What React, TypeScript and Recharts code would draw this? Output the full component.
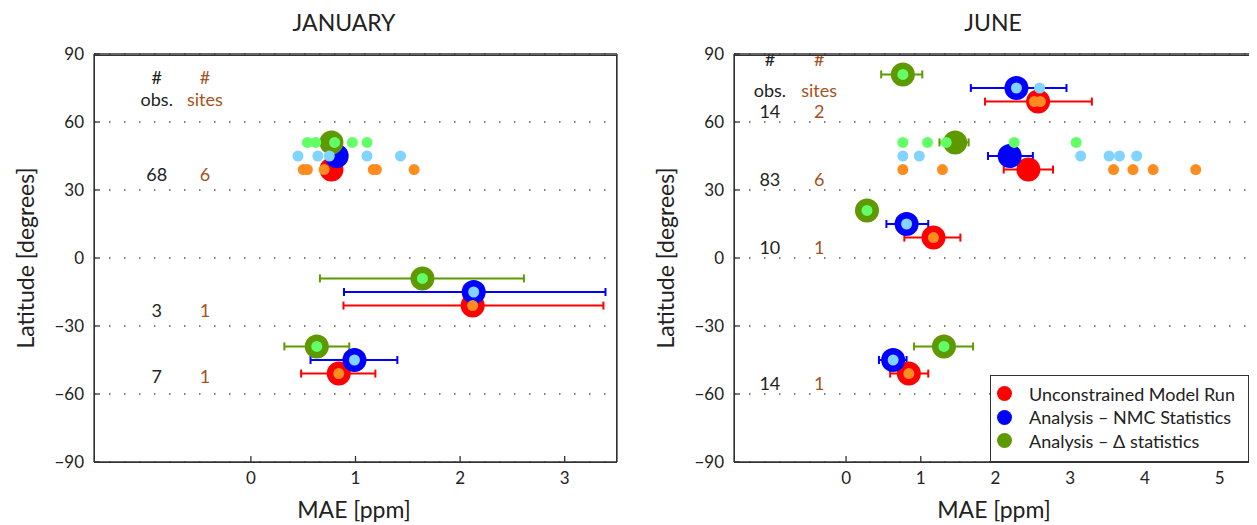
import React from "react";
import { ScatterChart, Scatter, XAxis, YAxis, CartesianGrid, ErrorBar } from "recharts";

const latTicks = [-90, -60, -30, 0, 30, 60, 90];
const janMaeTicks = [0, 1, 2, 3];
const junMaeTicks = [0, 1, 2, 3, 4, 5];

// regional means: mae, latitude, error bar ends (lo/hi)
const janModel = [
  { mae: 0.77, lat: 39, lo: 0.77, hi: 0.77 },
  { mae: 2.12, lat: -21, lo: 0.885, hi: 3.37 },
  { mae: 0.84, lat: -51, lo: 0.48, hi: 1.19 },
];
const janNmc = [
  { mae: 0.82, lat: 45, lo: 0.82, hi: 0.82 },
  { mae: 2.13, lat: -15, lo: 0.89, hi: 3.39 },
  { mae: 0.99, lat: -45, lo: 0.57, hi: 1.4 },
];
const janDelta = [
  { mae: 0.77, lat: 51, lo: 0.77, hi: 0.77 },
  { mae: 1.64, lat: -9, lo: 0.66, hi: 2.61 },
  { mae: 0.63, lat: -39, lo: 0.32, hi: 0.94 },
];

// individual sites
const janModelSites = [
  { mae: 0.5, lat: 39 }, { mae: 0.54, lat: 39 }, { mae: 0.7, lat: 39 },
  { mae: 1.17, lat: 39 }, { mae: 1.2, lat: 39 }, { mae: 1.56, lat: 39 },
  { mae: 2.12, lat: -21 }, { mae: 0.84, lat: -51 },
];
const janNmcSites = [
  { mae: 0.45, lat: 45 }, { mae: 0.64, lat: 45 }, { mae: 0.75, lat: 45 },
  { mae: 1.11, lat: 45 }, { mae: 1.43, lat: 45 },
  { mae: 2.13, lat: -15 }, { mae: 0.99, lat: -45 },
];
const janDeltaSites = [
  { mae: 0.54, lat: 51 }, { mae: 0.62, lat: 51 }, { mae: 0.8, lat: 51 },
  { mae: 0.97, lat: 51 }, { mae: 1.11, lat: 51 },
  { mae: 1.64, lat: -9 }, { mae: 0.63, lat: -39 },
];

const janObsNotes = [
  { mae: -0.9, lat: 80, text: "#" },
  { mae: -0.9, lat: 70, text: "obs." },
  { mae: -0.9, lat: 37, text: "68" },
  { mae: -0.9, lat: -23, text: "3" },
  { mae: -0.9, lat: -52, text: "7" },
];
const janSiteNotes = [
  { mae: -0.44, lat: 80, text: "#" },
  { mae: -0.44, lat: 70, text: "sites" },
  { mae: -0.44, lat: 37, text: "6" },
  { mae: -0.44, lat: -23, text: "1" },
  { mae: -0.44, lat: -52, text: "1" },
];

const junModel = [
  { mae: 2.57, lat: 69, lo: 1.86, hi: 3.29 },
  { mae: 2.44, lat: 39, lo: 2.11, hi: 2.77 },
  { mae: 1.17, lat: 9, lo: 0.78, hi: 1.53 },
  { mae: 0.84, lat: -51, lo: 0.59, hi: 1.1 },
];
const junNmc = [
  { mae: 2.28, lat: 75, lo: 1.67, hi: 2.95 },
  { mae: 2.19, lat: 45, lo: 1.9, hi: 2.5 },
  { mae: 0.81, lat: 15, lo: 0.54, hi: 1.1 },
  { mae: 0.63, lat: -45, lo: 0.44, hi: 0.81 },
];
const junDelta = [
  { mae: 0.76, lat: 81, lo: 0.47, hi: 1.02 },
  { mae: 1.46, lat: 51, lo: 1.25, hi: 1.64 },
  { mae: 0.28, lat: 21, lo: 0.28, hi: 0.28 },
  { mae: 1.31, lat: -39, lo: 0.91, hi: 1.7 },
];

const junModelSites = [
  { mae: 2.52, lat: 69 }, { mae: 2.6, lat: 69 },
  { mae: 0.76, lat: 39 }, { mae: 1.29, lat: 39 }, { mae: 3.58, lat: 39 },
  { mae: 3.84, lat: 39 }, { mae: 4.11, lat: 39 }, { mae: 4.68, lat: 39 },
  { mae: 1.17, lat: 9 }, { mae: 0.84, lat: -51 },
];
const junNmcSites = [
  { mae: 2.28, lat: 75 }, { mae: 2.59, lat: 75 },
  { mae: 0.76, lat: 45 }, { mae: 0.98, lat: 45 }, { mae: 3.14, lat: 45 },
  { mae: 3.52, lat: 45 }, { mae: 3.66, lat: 45 }, { mae: 3.89, lat: 45 },
  { mae: 0.81, lat: 15 }, { mae: 0.63, lat: -45 },
];
const junDeltaSites = [
  { mae: 0.76, lat: 81 },
  { mae: 0.76, lat: 51 }, { mae: 1.09, lat: 51 }, { mae: 1.34, lat: 51 },
  { mae: 2.25, lat: 51 }, { mae: 3.08, lat: 51 },
  { mae: 0.28, lat: 21 }, { mae: 1.31, lat: -39 },
];

const junObsNotes = [
  { mae: -1.02, lat: 88, text: "#" },
  { mae: -1.02, lat: 74, text: "obs." },
  { mae: -1.02, lat: 65, text: "14" },
  { mae: -1.02, lat: 35, text: "83" },
  { mae: -1.02, lat: 5, text: "10" },
  { mae: -1.02, lat: -55, text: "14" },
];
const junSiteNotes = [
  { mae: -0.36, lat: 88, text: "#" },
  { mae: -0.36, lat: 74, text: "sites" },
  { mae: -0.36, lat: 65, text: "2" },
  { mae: -0.36, lat: 35, text: "6" },
  { mae: -0.36, lat: 5, text: "1" },
  { mae: -0.36, lat: -55, text: "1" },
];

const legendItems = [
  { name: "Unconstrained Model Run", color: "#ff0000" },
  { name: "Analysis \u2013 NMC Statistics", color: "#0000ff" },
  { name: "Analysis \u2013 \u0394 statistics", color: "#5f9900" },
];

const RED = "#ff0000";
const ORANGE = "#ff8c1e";
const BLUE = "#0000ff";
const LIGHTBLUE = "#80d4ff";
const OLIVE = "#5f9900";
const LIGHTGREEN = "#62ff66";
const DARK = "#222";
const BROWN = "#a5521e";
const FONT = "Lato, 'DejaVu Sans', sans-serif";

const errRange = (d: any) => [d.mae - d.lo, d.hi - d.mae];
const fmt = (v: number) => (v < 0 ? `\u2212${-v}` : `${v}`);
const ax = () => ({ stroke: "#333", strokeWidth: 1.3 });
const tickStyle = () => ({ fontSize: 17, fill: DARK, fontFamily: FONT });

const bigDot = (fill: string) => (p: any) => <circle cx={p.cx} cy={p.cy} r={12} fill={fill} />;
const smallDot = (fill: string) => (p: any) => <circle cx={p.cx} cy={p.cy} r={5.5} fill={fill} />;
const note = (fill: string) => (p: any) => (
  <text x={p.cx} y={p.cy} textAnchor="middle" dominantBaseline="central" fontSize={18} fill={fill} fontFamily={FONT}>
    {p.payload.text}
  </text>
);

interface PanelProps {
  width: number;
  marginRight: number;
  maxMae: number;
  maeTicks: number[];
  model: any[];
  nmc: any[];
  delta: any[];
  modelSites: any[];
  nmcSites: any[];
  deltaSites: any[];
  obsNotes: any[];
  siteNotes: any[];
}

const Panel: React.FC<PanelProps> = (p) => {
  const xDomain = [-1.5, p.maxMae];
  return (
    <ScatterChart width={p.width} height={525} margin={{ top: 54, right: p.marginRight, bottom: 33, left: 0 }}>
      <CartesianGrid xAxisId="b" yAxisId="l" vertical={false} stroke="#555" strokeWidth={1.5} strokeDasharray="1.5 13.5" />
      <XAxis xAxisId="b" dataKey="mae" type="number" domain={xDomain} ticks={p.maeTicks} allowDataOverflow
        height={30} tickSize={-6} tickMargin={16} tick={tickStyle()} axisLine={ax()} tickLine={ax()} tickFormatter={fmt} />
      <XAxis xAxisId="t" orientation="top" type="number" domain={xDomain} ticks={p.maeTicks}
        height={1} mirror tick={false} axisLine={ax()} tickLine={ax()} />
      <YAxis yAxisId="l" dataKey="lat" type="number" domain={[-90, 90]} ticks={latTicks} allowDataOverflow
        width={94} tickSize={-6} tickMargin={16} tick={tickStyle()} axisLine={ax()} tickLine={ax()} tickFormatter={fmt} />
      <YAxis yAxisId="r" orientation="right" type="number" domain={[-90, 90]} ticks={latTicks}
        width={1} mirror tick={false} axisLine={ax()} tickLine={ax()} />

      <Scatter xAxisId="b" yAxisId="l" data={p.obsNotes} shape={note(DARK)} isAnimationActive={false} />
      <Scatter xAxisId="b" yAxisId="l" data={p.siteNotes} shape={note(BROWN)} isAnimationActive={false} />

      <Scatter xAxisId="b" yAxisId="l" data={p.model} shape={bigDot(RED)} isAnimationActive={false}>
        <ErrorBar dataKey={errRange} direction="x" width={4} stroke={RED} strokeWidth={2} />
      </Scatter>
      <Scatter xAxisId="b" yAxisId="l" data={p.nmc} shape={bigDot(BLUE)} isAnimationActive={false}>
        <ErrorBar dataKey={errRange} direction="x" width={4} stroke={BLUE} strokeWidth={2} />
      </Scatter>
      <Scatter xAxisId="b" yAxisId="l" data={p.delta} shape={bigDot(OLIVE)} isAnimationActive={false}>
        <ErrorBar dataKey={errRange} direction="x" width={4} stroke={OLIVE} strokeWidth={2} />
      </Scatter>

      <Scatter xAxisId="b" yAxisId="l" data={p.modelSites} shape={smallDot(ORANGE)} isAnimationActive={false} />
      <Scatter xAxisId="b" yAxisId="l" data={p.nmcSites} shape={smallDot(LIGHTBLUE)} isAnimationActive={false} />
      <Scatter xAxisId="b" yAxisId="l" data={p.deltaSites} shape={smallDot(LIGHTGREEN)} isAnimationActive={false} />
    </ScatterChart>
  );
};

const abs = (left: number, top: number, extra: React.CSSProperties = {}): React.CSSProperties => ({
  position: "absolute",
  left,
  top,
  transform: "translate(-50%, -50%)",
  whiteSpace: "nowrap",
  color: DARK,
  lineHeight: "normal",
  ...extra,
});

// plot frame, drawn on top of the svg
const frame = (left: number): React.CSSProperties => ({
  position: "absolute",
  left,
  top: 54.5,
  width: 521,
  height: 406,
  border: "1px solid #333",
  pointerEvents: "none",
});

export default function App() {
  return (
    <div style={{ position: "relative", margin: "-8px 0 0 -8px", width: 1257, height: 525, lineHeight: 0, fontFamily: FONT }}>
      <div style={{ display: "inline-block", position: "relative", verticalAlign: "top" }}>
        <Panel width={630} marginRight={13} maxMae={3.5} maeTicks={janMaeTicks}
          model={janModel} nmc={janNmc} delta={janDelta}
          modelSites={janModelSites} nmcSites={janNmcSites} deltaSites={janDeltaSites}
          obsNotes={janObsNotes} siteNotes={janSiteNotes} />
      </div>
      <div style={{ display: "inline-block", position: "relative", verticalAlign: "top", marginLeft: 10 }}>
        <Panel width={617} marginRight={0} maxMae={5.5} maeTicks={junMaeTicks}
          model={junModel} nmc={junNmc} delta={junDelta}
          modelSites={junModelSites} nmcSites={junNmcSites} deltaSites={junDeltaSites}
          obsNotes={junObsNotes} siteNotes={junSiteNotes} />
      </div>

      <div style={frame(93.5)} />
      <div style={frame(733.5)} />

      <div style={abs(344, 22, { fontSize: 23 })}>JANUARY</div>
      <div style={abs(993, 22, { fontSize: 23 })}>JUNE</div>
      <div style={abs(354, 509, { fontSize: 23 })}>MAE [ppm]</div>
      <div style={abs(994, 509, { fontSize: 23 })}>MAE [ppm]</div>
      <div style={abs(25, 258, { fontSize: 23, transform: "translate(-50%, -50%) rotate(-90deg)" })}>Latitude [degrees]</div>
      <div style={abs(665, 258, { fontSize: 23, transform: "translate(-50%, -50%) rotate(-90deg)" })}>Latitude [degrees]</div>

      <div style={{ position: "absolute", left: 990, top: 375, width: 257, height: 79, border: "1.5px solid #333", background: "#fff", paddingTop: 6, boxSizing: "content-box", lineHeight: "normal" }}>
        {legendItems.map((it) => (
          <div key={it.name} style={{ display: "flex", alignItems: "center", height: 23.5 }}>
            <span style={{ display: "inline-block", width: 15, height: 15, borderRadius: "50%", background: it.color, marginLeft: 6, marginRight: 17 }} />
            <span style={{ fontSize: 18, color: DARK }}>{it.name}</span>
          </div>
        ))}
      </div>
    </div>
  );
}
